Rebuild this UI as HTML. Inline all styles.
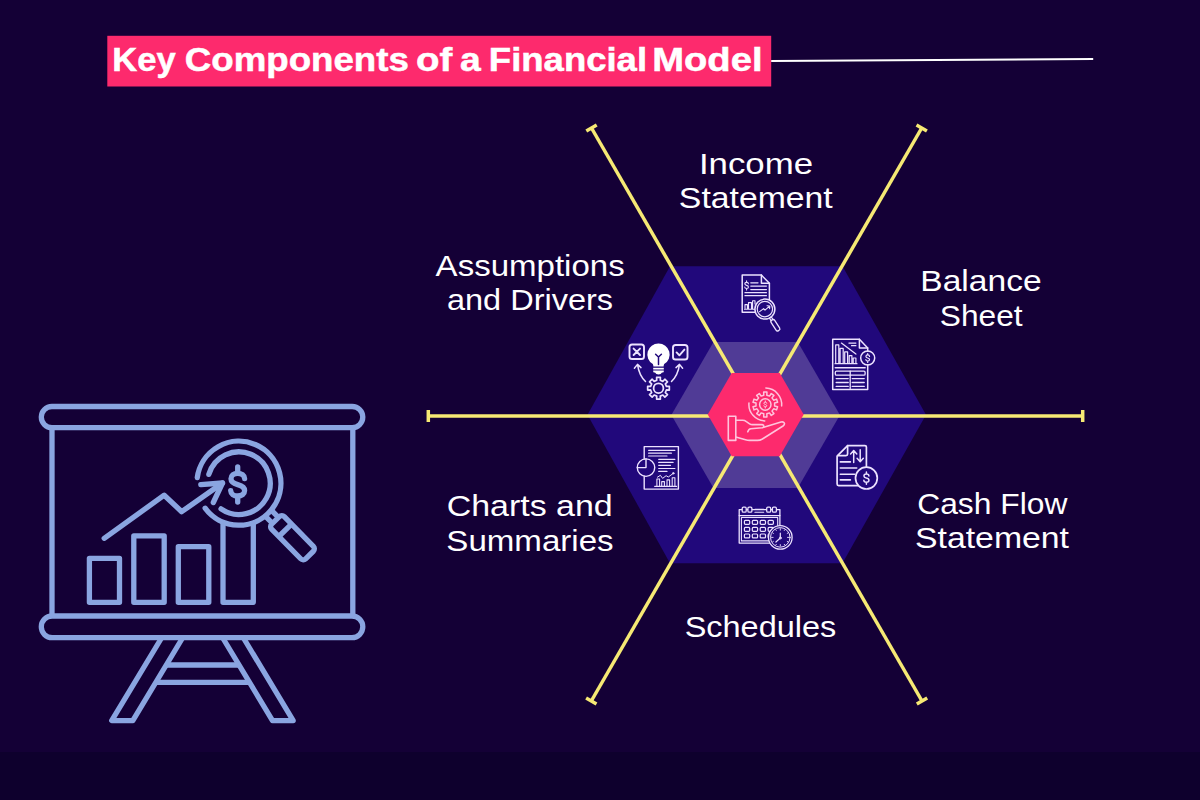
<!DOCTYPE html>
<html><head><meta charset="utf-8"><title>Key Components of a Financial Model</title>
<style>
html,body{margin:0;padding:0;background:#140036;}
body{width:1200px;height:800px;overflow:hidden;font-family:"Liberation Sans",sans-serif;}
svg{display:block;font-family:"Liberation Sans",sans-serif;}
</style></head><body>
<svg width="1200" height="800" viewBox="0 0 1200 800">
<rect x="0" y="0" width="1200" height="800" fill="#140036"/>
<rect x="0" y="752" width="1200" height="48" fill="#0e002d"/>
<rect x="107.3" y="35.8" width="663.9" height="50.7" fill="#fd2a6d"/>
<line x1="771.2" y1="61" x2="1093.2" y2="59" stroke="#ffffff" stroke-width="2.1"/>
<polygon points="587.5,414.8 670,266.2 842.5,266.2 926,414.8 842.5,563.2 670,563.2" fill="#21087b"/>
<polygon points="839.95,415.00 797.80,488.01 713.50,488.01 671.35,415.00 713.50,341.99 797.80,341.99" fill="#503b96"/>
<g stroke="#f6e974" stroke-width="3.5" stroke-linecap="butt" fill="none">
<line x1="428.30" y1="416.00" x2="1082.70" y2="416.00"/><line x1="428.30" y1="422.00" x2="428.30" y2="410.00"/><line x1="1082.70" y1="422.00" x2="1082.70" y2="410.00"/>
<line x1="591.50" y1="128.00" x2="922.00" y2="701.00"/><line x1="586.30" y1="131.00" x2="596.70" y2="125.00"/><line x1="916.80" y1="704.00" x2="927.20" y2="698.00"/>
<line x1="921.70" y1="128.00" x2="591.30" y2="701.00"/><line x1="916.50" y1="125.00" x2="926.90" y2="131.00"/><line x1="586.10" y1="698.00" x2="596.50" y2="704.00"/>
</g>
<polygon points="803.70,414.60 779.70,456.17 731.70,456.17 707.70,414.60 731.70,373.03 779.70,373.03" fill="#fd2a6d"/>
<text x="112.17" y="70.7" font-size="33" font-weight="700" fill="#ffffff" stroke="#ffffff" stroke-width="0.5" textLength="63.47" lengthAdjust="spacingAndGlyphs">Key</text>
<text x="184.76" y="70.7" font-size="33" font-weight="700" fill="#ffffff" stroke="#ffffff" stroke-width="0.5" textLength="224.12" lengthAdjust="spacingAndGlyphs">Components</text>
<text x="415.95" y="70.7" font-size="33" font-weight="700" fill="#ffffff" stroke="#ffffff" stroke-width="0.5" textLength="36.3" lengthAdjust="spacingAndGlyphs">of</text>
<text x="460.04" y="70.7" font-size="33" font-weight="700" fill="#ffffff" stroke="#ffffff" stroke-width="0.5" textLength="20.75" lengthAdjust="spacingAndGlyphs">a</text>
<text x="488.89" y="70.7" font-size="33" font-weight="700" fill="#ffffff" stroke="#ffffff" stroke-width="0.5" textLength="158.18" lengthAdjust="spacingAndGlyphs">Financial</text>
<text x="652.26" y="70.7" font-size="33" font-weight="700" fill="#ffffff" stroke="#ffffff" stroke-width="0.5" textLength="110.25" lengthAdjust="spacingAndGlyphs">Model</text>
<text x="698.9" y="173.7" font-size="29" font-weight="400" fill="#ffffff" textLength="114.19" lengthAdjust="spacingAndGlyphs">Income</text>
<text x="678.88" y="207.8" font-size="29" font-weight="400" fill="#ffffff" textLength="153.78" lengthAdjust="spacingAndGlyphs">Statement</text>
<text x="435.63" y="275.8" font-size="29" font-weight="400" fill="#ffffff" textLength="189.06" lengthAdjust="spacingAndGlyphs">Assumptions</text>
<text x="446.94" y="310" font-size="29" font-weight="400" fill="#ffffff" textLength="166.16" lengthAdjust="spacingAndGlyphs">and Drivers</text>
<text x="920.31" y="291.3" font-size="29" font-weight="400" fill="#ffffff" textLength="121.3" lengthAdjust="spacingAndGlyphs">Balance</text>
<text x="939.89" y="326.1" font-size="29" font-weight="400" fill="#ffffff" textLength="82.78" lengthAdjust="spacingAndGlyphs">Sheet</text>
<text x="917.19" y="514" font-size="29" font-weight="400" fill="#ffffff" textLength="150.16" lengthAdjust="spacingAndGlyphs">Cash Flow</text>
<text x="915.02" y="548" font-size="29" font-weight="400" fill="#ffffff" textLength="153.98" lengthAdjust="spacingAndGlyphs">Statement</text>
<text x="446.65" y="516.3" font-size="29" font-weight="400" fill="#ffffff" textLength="166.05" lengthAdjust="spacingAndGlyphs">Charts and</text>
<text x="446.34" y="550.6" font-size="29" font-weight="400" fill="#ffffff" textLength="167.27" lengthAdjust="spacingAndGlyphs">Summaries</text>
<text x="684.68" y="636.7" font-size="29" font-weight="400" fill="#ffffff" textLength="151.63" lengthAdjust="spacingAndGlyphs">Schedules</text>
<g fill="none" stroke="#8aa5e1" stroke-width="5.3" stroke-linecap="round" stroke-linejoin="round">
<rect x="41.3" y="406.5" width="321.5" height="21.2" rx="10.6"/>
<rect x="41.3" y="616" width="321.5" height="21.7" rx="10.85"/>
<path d="M52 428V616M352.8 428V616" stroke-linecap="butt"/>
<path d="M161.5 638L111.7 720.6H132.8L182.5 638M222.8 638L272.5 720.6H293.2L243.5 638" stroke-linecap="butt"/>
<path d="M166.1 665H239.2M155.7 682.3H249.6" stroke-linecap="butt"/>
<rect x="89.4" y="558.3" width="30.1" height="44"/>
<rect x="133.8" y="535.8" width="30.4" height="66.5"/>
<rect x="178.3" y="546.7" width="30.5" height="55.6"/>
<path d="M223 522V602.3H253.3V522.5" stroke-linecap="butt"/>
<path d="M104.2 538.3L164.2 495.2L181.7 511.7L222.5 483"/>
<path d="M200.8 484.7L222.5 483L213.3 502.5"/>
<path d="M197.28 477.57A42 42 0 1 1 205.14 508.18"/>
<path d="M208.87 474.36A31.3 31.3 0 1 1 221.04 508.90"/>
<path d="M244.6 478.6C244.4 475.2 241.6 473.3 237.7 473.3C233.6 473.3 231 475.6 231 478.8C231 482.4 234 483.6 237.7 484.6C241.6 485.6 244.6 487 244.6 490.6C244.6 493.9 241.7 496 237.7 496C233.7 496 230.9 494 230.7 490.6"/>
<path d="M237.7 466.8V472M237.7 497.5V502"/>
<g transform="translate(238.9 483.2) rotate(45.5)">
<path d="M43 -4.2H52M43 4.2H52" stroke-linecap="butt"/>
<rect x="52.2" y="-8.9" width="48.5" height="17.8" rx="3.5"/>
<path d="M66 -8.9V8.9" stroke-linecap="butt"/>
</g>
</g>
<g fill="none" stroke="#ece2ff" stroke-width="1.5" stroke-linecap="round" stroke-linejoin="round">
<g>
<path d="M755 312.3H742.2V275.1H761.4L769.4 283.3V299.5"/>
<path d="M761.4 275.1V283.3H769.4"/>
<path d="M750.8 282.8H758M750.8 286.1H766.4M750.8 289.6H766.4M745 292.7H766.4M745 295.7H766.4" stroke-width="1.3"/>
<path d="M748.45 283.82C748.39 282.87 747.66 282.37 746.60 282.37C745.49 282.37 744.81 282.97 744.81 283.82C744.81 284.82 745.65 285.14 746.60 285.40C747.66 285.66 748.45 286.06 748.45 286.98C748.45 287.88 747.66 288.43 746.60 288.43C745.54 288.43 744.78 287.91 744.73 286.98M746.60 280.91V282.37M746.60 288.43V289.89" fill="none" stroke="#ece2ff" stroke-width="1.1" stroke-linecap="round" />
<path d="M745 309.2V304.6H747.4V309.2M748.5 309.2V302.6H751.5V309.2M752.6 309.2V300.8H755V304M744.5 309.2H755" stroke-width="1.1"/>
<circle cx="764.9" cy="309.1" r="10" fill="#21087b"/>
<circle cx="764.9" cy="309.1" r="7.7" stroke-width="1.2"/>
<path d="M759.6 311.6L763.6 308.6L765 310.2L769.6 306.2M767 305.8L769.8 306L769.6 308.8" stroke-width="1.1"/>
<g transform="translate(764.9 309.1) rotate(57)">
<path d="M10 -1.1H13M10 1.1H13" stroke-width="1.1"/>
<rect x="13" y="-2.1" width="12.5" height="4.2" rx="1.8" stroke-width="1.3"/>
</g>
</g>
<g>
<path d="M867.7 351.2V347.9L859.4 339.2H832.7V389.5H867.7V364.8"/>
<path d="M859.4 339.2V347.9H867.7"/>
<circle cx="867.7" cy="358" r="7"/>
<path d="M869.55 356.42C869.49 355.47 868.76 354.97 867.70 354.97C866.59 354.97 865.91 355.57 865.91 356.42C865.91 357.42 866.75 357.74 867.70 358.00C868.76 358.26 869.55 358.66 869.55 359.58C869.55 360.48 868.76 361.03 867.70 361.03C866.64 361.03 865.88 360.51 865.83 359.58M867.70 353.51V354.97M867.70 361.03V362.49" fill="none" stroke="#ece2ff" stroke-width="1.2" stroke-linecap="round" />
<path d="M835.7 363.7V344.9H838.8V363.7M840.1 363.7V348.4H843.2V363.7M844.7 363.7V351.9H847.6V363.7M849.2 363.7V355.6H851.9V363.7M853.2 363.7V358H855.9V363.7M835 363.7H857" stroke-width="1.2"/>
<path d="M841.4 343.1L855.9 354.1M848.9 343.1H855.9M851.5 345.7H855.9" stroke-width="1.2"/>
<path d="M835.3 367.8H865.1" stroke-width="1.6"/>
<rect x="835.3" y="371.1" width="29.8" height="4" rx="1.2" stroke-width="1.3"/>
<path d="M850.2 371.1V388.4" stroke-width="1.3"/>
<path d="M836.2 378.6H848.2M836.2 382.5H848.2M836.2 386.4H848.2M852.2 378.6H864.2M852.2 382.5H864.2M852.2 386.4H864.2" stroke-width="1.4"/>
</g>
<g stroke-width="1.7">
<path d="M858 485.6H838.6Q837.1 485.6 837.1 484.1V456.2L847.6 445.6H864.9Q866.4 445.6 866.4 447.1V467"/>
<path d="M847.6 445.6V454Q847.6 455.6 846 455.6H838"/>
<path d="M853.7 462.4V450.8M850.6 454L853.7 450.6L856.8 454M860.2 449.8V461.5M857.1 458.3L860.2 461.7L863.3 458.3" stroke-width="1.5"/>
<path d="M840.3 461.9H850.4M840.3 468H856.7M840.3 474.2H854.6M840.3 479.9H850.4" stroke-width="1.6"/>
<circle cx="866.4" cy="478.1" r="10.9"/>
<path d="M868.93 475.93C868.86 474.63 867.84 473.95 866.40 473.95C864.88 473.95 863.94 474.78 863.94 475.93C863.94 477.31 865.10 477.74 866.40 478.10C867.84 478.46 868.93 479.00 868.93 480.27C868.93 481.49 867.84 482.25 866.40 482.25C864.96 482.25 863.91 481.53 863.84 480.27M866.40 471.96V473.95M866.40 482.25V484.24" fill="none" stroke="#ece2ff" stroke-width="1.5" stroke-linecap="round" />
</g>
<g stroke-width="1.3">
<path d="M779.9 526V509.6H739.2V543.1H770"/>
<path d="M739.2 515.6H779.9"/>
<rect x="741.4" y="517.5" width="36.3" height="23.4" stroke-width="1.1"/>
<rect x="742.2" y="507.2" width="4" height="4.9" rx="1.2" fill="#21087b" stroke-width="1.3"/>
<rect x="747.9" y="507.2" width="4" height="4.9" rx="1.2" fill="#21087b" stroke-width="1.3"/>
<rect x="766.7" y="507.2" width="4" height="4.9" rx="1.2" fill="#21087b" stroke-width="1.3"/>
<rect x="772.4" y="507.2" width="4" height="4.9" rx="1.2" fill="#21087b" stroke-width="1.3"/>
<path d="M754.9 509.4H763.7M754.9 512.3H763.7" stroke-width="1.1"/>
<rect x="744.4" y="520.4" width="5.3" height="3.9" rx="1" stroke-width="1.2"/>
<rect x="752.3" y="520.4" width="5.3" height="3.9" rx="1" stroke-width="1.2"/>
<rect x="760.2" y="520.4" width="5.3" height="3.9" rx="1" stroke-width="1.2"/>
<rect x="768.1" y="520.4" width="5.3" height="3.9" rx="1" stroke-width="1.2"/>
<rect x="744.4" y="527.4" width="5.3" height="3.9" rx="1" stroke-width="1.2"/>
<rect x="752.3" y="527.4" width="5.3" height="3.9" rx="1" stroke-width="1.2"/>
<rect x="760.2" y="527.4" width="5.3" height="3.9" rx="1" stroke-width="1.2"/>
<rect x="768.1" y="527.4" width="5.3" height="3.9" rx="1" stroke-width="1.2"/>
<rect x="744.4" y="534" width="5.3" height="3.9" rx="1" stroke-width="1.2"/>
<rect x="752.3" y="534" width="5.3" height="3.9" rx="1" stroke-width="1.2"/>
<rect x="760.2" y="534" width="5.3" height="3.9" rx="1" stroke-width="1.2"/>
<rect x="768.1" y="534" width="5.3" height="3.9" rx="1" stroke-width="1.2"/>
<circle cx="780.3" cy="537.4" r="11.8" fill="#21087b"/>
<circle cx="780.3" cy="537.4" r="9.8" stroke-width="1"/>
<path d="M787.50 537.40L789.10 537.40M787.23 541.40L787.92 541.80M784.30 544.33L784.70 545.02M780.30 544.60L780.30 546.20M776.30 544.33L775.90 545.02M773.37 541.40L772.68 541.80M773.10 537.40L771.50 537.40M773.37 533.40L772.68 533.00M776.30 530.47L775.90 529.78M780.30 530.20L780.30 528.60M784.30 530.47L784.70 529.78M787.23 533.40L787.92 533.00" stroke-width="0.9"/>
<path d="M780.3 538V533.2M780.3 538L775.9 542" stroke-width="1.2"/>
<circle cx="780.3" cy="538" r="1" stroke-width="0.9"/>
</g>
<g stroke-width="1.4">
<path d="M644.2 459V446.6H678.4V489.1H644.2V476.3"/>
<circle cx="646" cy="467.6" r="8.75"/>
<path d="M646 458.9V467.6H637.3"/>
<path d="M648.6 450.3H674.9M648.6 453.2H671.4M648.6 456H667M658.7 459.3H674.9M658.7 462.4H673.1M658.7 465.3H670.5M658.7 468.5H674.9M658.7 471.4H667" stroke-width="1.2"/>
<path d="M656.9 486V479H659.6V486M661.7 486V481.6H664.4V486M667 486V479.9H669.6V486M672.2 486V477.7H674.9V486M654.7 486.4H676.6" stroke-width="1.1"/>
<path d="M657.4 477.2L660.4 475.3L662.6 478.4L666.1 475.7L668.3 477L673.1 473.5" stroke-width="1"/>
<circle cx="673.3" cy="473.3" r="0.8" fill="#ece2ff" stroke-width="0.8"/>
</g>
<g stroke-width="1.9">
<rect x="629.5" y="344.5" width="14.5" height="14.5" rx="2.6"/>
<path d="M633.6 348.6L640 355M640 348.6L633.6 355"/>
<rect x="673" y="345" width="14.5" height="14.5" rx="2.6"/>
<path d="M676.6 352.4L679.4 355.3L684.4 349.6"/>
<path d="M658.5 343.5A11 11 0 0 1 664.2 364Q663.6 365 663.6 366.6H653.4Q653.4 365 652.8 364A11 11 0 0 1 658.5 343.5Z" fill="#ffffff" stroke="none"/>
<rect x="653.2" y="367.8" width="10.6" height="1.7" fill="#ffffff" stroke="none"/>
<path d="M653.2 370.6H663.8V371.6Q663.8 372.6 662.8 372.6H662Q661 374.6 658.5 374.6Q656 374.6 655 372.6H654.2Q653.2 372.6 653.2 371.6Z" fill="#ffffff" stroke="none"/>
<path d="M658.5 364.5V356.8M658.5 357L655.6 354.2M658.5 357L661.4 354.2" stroke="#21087b" stroke-width="1.5"/>
<path d="M656.73 380.30L656.62 377.36L660.38 377.36L660.27 380.30L662.84 381.36L664.84 379.21L667.49 381.86L665.34 383.86L666.40 386.43L669.34 386.32L669.34 390.08L666.40 389.97L665.34 392.54L667.49 394.54L664.84 397.19L662.84 395.04L660.27 396.10L660.38 399.04L656.62 399.04L656.73 396.10L654.16 395.04L652.16 397.19L649.51 394.54L651.66 392.54L650.60 389.97L647.66 390.08L647.66 386.32L650.60 386.43L651.66 383.86L649.51 381.86L652.16 379.21L654.16 381.36Z" stroke-width="1.7"/>
<circle cx="658.5" cy="388.2" r="4.9" stroke-width="1.8"/>
<path d="M645.5 381.5Q639 375 637.6 364.8M634.4 368.2L637.5 364.4L641 367.6" stroke-width="1.5"/>
<path d="M671.5 381.5Q678 375 679.4 364.8M676 367.6L679.5 364.4L682.6 368.2" stroke-width="1.5"/>
</g>
</g>
<g fill="none" stroke="#ffc4dc" stroke-width="1.6" stroke-linecap="round" stroke-linejoin="round">
<rect x="728.3" y="416.3" width="7.5" height="24.1"/>
<path d="M735.8 420.3H742.6Q744.6 420.3 746.4 421.6L749.6 423.8Q750.8 424.6 752.4 424.6H762Q763.9 424.8 763.9 426.2Q763.9 427.6 762 427.8L750.8 428.7Q748.6 429 747.8 431.8"/>
<path d="M763.8 427.2L781 422Q783.6 421.4 784.3 423Q785 424.6 783 426L762.4 439Q760 440.4 757.5 440.4H749.5Q747.5 440.4 745.5 439.8L735.8 436.9"/>
<path d="M763.77 395.23L763.67 392.11L766.93 392.11L766.83 395.23L769.51 396.10L771.27 393.52L773.90 395.43L771.99 397.90L773.65 400.18L776.58 399.12L777.59 402.22L774.59 403.09L774.59 405.91L777.59 406.78L776.58 409.88L773.65 408.82L771.99 411.10L773.90 413.57L771.27 415.48L769.51 412.90L766.83 413.77L766.93 416.89L763.67 416.89L763.77 413.77L761.09 412.90L759.33 415.48L756.70 413.57L758.61 411.10L756.95 408.82L754.02 409.88L753.01 406.78L756.01 405.91L756.01 403.09L753.01 402.22L754.02 399.12L756.95 400.18L758.61 397.90L756.70 395.43L759.33 393.52L761.09 396.10Z" stroke-width="1.5"/>
<circle cx="765.3" cy="404.5" r="5.7" stroke-width="1.5"/>
<path d="M766.76 403.25C766.72 402.50 766.13 402.10 765.30 402.10C764.42 402.10 763.88 402.58 763.88 403.25C763.88 404.04 764.55 404.29 765.30 404.50C766.13 404.71 766.76 405.02 766.76 405.75C766.76 406.46 766.13 406.90 765.30 406.90C764.47 406.90 763.86 406.48 763.82 405.75M765.30 400.96V402.10M765.30 406.90V408.04" fill="none" stroke="#ffc4dc" stroke-width="1" stroke-linecap="round" />
<path d="M765.87 388.11A16.4 16.4 0 0 1 781.64 405.93" stroke-width="1.5"/>
<path d="M764.73 420.89A16.4 16.4 0 0 1 748.96 403.07" stroke-width="1.5"/>
</g>
</svg>
</body></html>
